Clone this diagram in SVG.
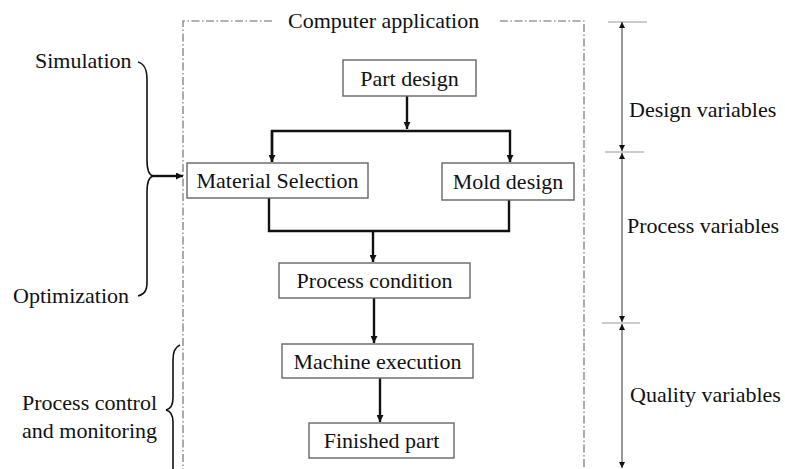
<svg xmlns="http://www.w3.org/2000/svg" width="785" height="469" viewBox="0 0 785 469">
  <defs>
    <style>
      text { font-family: "Liberation Serif", "Times New Roman", serif; font-size: 22px; fill: #111; }
      .box { fill: #fff; stroke: #666; stroke-width: 1.4; }
      .flow { fill: none; stroke: #111; stroke-width: 2.4; }
      .frame { fill: none; stroke: #666; stroke-width: 1.1; stroke-dasharray: 8 2.5 1.5 2.5; }
      .dim { fill: none; stroke: #444; stroke-width: 1.1; }
      .tick { fill: none; stroke: #999; stroke-width: 1.1; }
      .brace { fill: none; stroke: #111; stroke-width: 1.6; }
    </style>
    <marker id="arrow" viewBox="0 0 10 10" refX="10" refY="5" markerWidth="7" markerHeight="7" markerUnits="userSpaceOnUse" orient="auto">
      <path d="M0,0 L10,5 L0,10 z" fill="#111"/>
    </marker>
    <marker id="dimArrow" viewBox="0 0 10 10" refX="10" refY="5" markerWidth="7" markerHeight="6" markerUnits="userSpaceOnUse" orient="auto-start-reverse">
      <path d="M0,0 L10,5 L0,10 z" fill="#111"/>
    </marker>
  </defs>

  <!-- computer application frame (dash-dot) -->
  <g id="frame">
    <path class="frame" d="M272,21 H183 V469"/>
    <path class="frame" d="M500,21 H584 V469"/>
    <text x="288" y="28">Computer application</text>
  </g>

  <!-- connectors -->
  <g id="connectors">
    <path class="flow" d="M407,96 V129" marker-end="url(#arrow)"/>
    <path class="flow" d="M272,162 V131 H510 V162" marker-end="url(#arrow)"/>
    <path class="flow" d="M272,131 V162" marker-end="url(#arrow)"/>
    <path class="flow" d="M269,198 V231 H509 V200"/>
    <path class="flow" d="M373,231 V262" marker-end="url(#arrow)"/>
    <path class="flow" d="M374,298 V343" marker-end="url(#arrow)"/>
    <path class="flow" d="M380,378 V422" marker-end="url(#arrow)"/>
    <path class="flow" d="M152,176 H183" stroke-width="2" marker-end="url(#arrow)"/>
  </g>

  <!-- flow nodes -->
  <g id="part-design">
    <rect class="box" x="343" y="60" width="133" height="36"/>
    <text x="409.5" y="85.5" text-anchor="middle">Part design</text>
  </g>
  <g id="material-selection">
    <rect class="box" x="187" y="163" width="181" height="35"/>
    <text x="277.5" y="188" text-anchor="middle">Material Selection</text>
  </g>
  <g id="mold-design">
    <rect class="box" x="442" y="163" width="132" height="37"/>
    <text x="508" y="189" text-anchor="middle">Mold design</text>
  </g>
  <g id="process-condition">
    <rect class="box" x="279" y="263" width="191" height="35"/>
    <text x="374.5" y="288" text-anchor="middle">Process condition</text>
  </g>
  <g id="machine-execution">
    <rect class="box" x="282" y="344" width="191" height="34"/>
    <text x="377.5" y="369" text-anchor="middle">Machine execution</text>
  </g>
  <g id="finished-part">
    <rect class="box" x="309" y="423" width="145" height="35"/>
    <text x="381.5" y="448" text-anchor="middle">Finished part</text>
  </g>

  <!-- left-hand method labels with braces -->
  <g id="simulation-optimization">
    <text x="35" y="68">Simulation</text>
    <text x="13" y="303">Optimization</text>
    <path class="brace" d="M138,62 C145,64 147,70 147,80 V160 C147,170 149,175 153,176 C149,177 147,182 147,192 V282 C147,290 145,294 138,296"/>
  </g>
  <g id="process-control">
    <text x="22" y="410">Process control</text>
    <text x="22" y="438">and monitoring</text>
    <path class="brace" d="M180,345 C175,347 173,352 173,360 V398 C173,405 170,409 166,410 C170,411 173,415 173,422 V469"/>
  </g>

  <!-- variable ranges on the right -->
  <g id="variable-scale">
    <path class="tick" d="M608,22 H647"/>
    <path class="tick" d="M605,152 H644"/>
    <path class="tick" d="M602,323 H640"/>
    <path class="dim" d="M622,22 V151" marker-start="url(#dimArrow)" marker-end="url(#dimArrow)"/>
    <path class="dim" d="M622,153 V322" marker-start="url(#dimArrow)" marker-end="url(#dimArrow)"/>
    <path class="dim" d="M622,324 V468" marker-start="url(#dimArrow)" marker-end="url(#dimArrow)"/>
  </g>
  <g id="design-variables">
    <text x="629" y="117">Design variables</text>
  </g>
  <g id="process-variables">
    <text x="627" y="233">Process variables</text>
  </g>
  <g id="quality-variables">
    <text x="630" y="402">Quality variables</text>
  </g>
</svg>
